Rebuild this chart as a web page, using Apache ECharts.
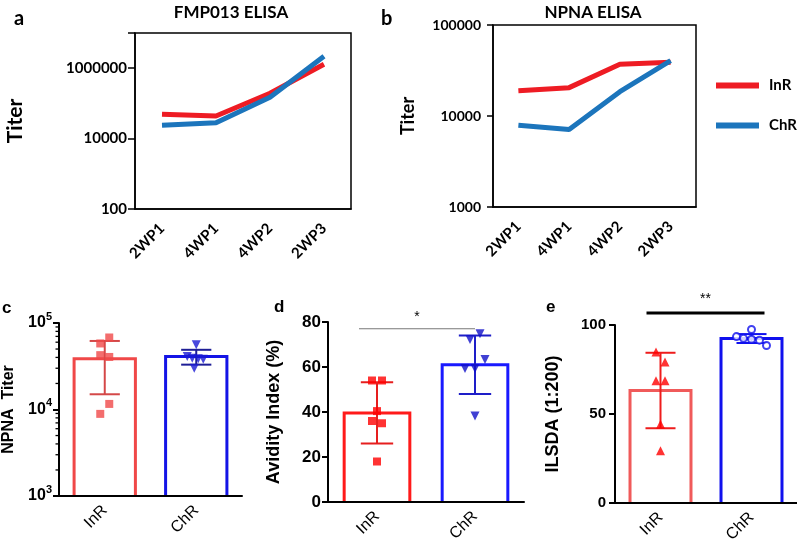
<!DOCTYPE html>
<html><head><meta charset="utf-8">
<script src="https://cdn.jsdelivr.net/npm/echarts@6/dist/echarts.min.js"></script>
<style>html,body{margin:0;padding:0;background:#fff}#c{width:797px;height:550px}</style>
</head><body><div id="c"></div>
<script>
// ---------- data ----------
const timeCats = ['2WP1', '4WP1', '4WP2', '2WP3'];
const aInR = [49000, 44000, 195000, 1300000];
const aChR = [24000, 28000, 150000, 2200000];
const bInR = [19000, 20500, 37000, 39000];
const bChR = [7900, 7100, 18500, 40500];

const groups = ['InR', 'ChR'];
const cMean = [38500, 41000];
const cSD = [23500, 8000];
const cInRPts = [68000, 58000, 42500, 40500, 11600, 8900];
const cChRPts = [56000, 41000, 39000, 38500, 38000, 30000];
const cMinorTicks = [2000, 3000, 4000, 5000, 6000, 7000, 8000, 9000, 20000, 30000, 40000, 50000, 60000, 70000, 80000, 90000];

const dMean = [39.6, 61];
const dSD = [13.6, 13];
const dInRPts = [54, 54, 40.4, 36, 35, 18];
const dChRPts = [74.8, 72.2, 63.3, 59.3, 59.3, 38.2];
const dSig = { y: 77, text: '*' };

const eMean = [63.2, 92.4];
const eSD = [21.2, 2.5];
const eInRPts = [84.8, 79.2, 68.7, 68.7, 44.3, 29.4];
const eChRPts = [97.5, 93.5, 92.5, 92, 91.5, 88.5];
const eSig = { y: 106.7, text: '**' };

// ---------- styles ----------
const RED = '#ee1c24', BLUE = '#1c75bc';
const LAT = 'Lato', ARI = 'Liberation Sans';
// horizontal jitter of dots (px), style only
const cOffIn = [4.5, -4.5, -4.5, 4.5, 4.5, -4.5];
const cOffCh = [0, -9, -4, 2, 7, -2];
const dOffIn = [-5, 5, 0, -5, 5, 0];
const dOffCh = [5, -5, 10, -10, 0, 0];
const eOffIn = [-4.5, 4.5, -4.5, 4.5, 0, 0];
const eOffCh = [0, -15, -8, 0, 8, 15];

const chart = echarts.init(document.getElementById('c'), null, { renderer: 'canvas' });

const blk = { color: '#000', width: 1.5 };
function topAxisX(gi, fs) {
  return { gridIndex: gi, type: 'category', data: timeCats,
    axisLine: { lineStyle: blk }, axisTick: { length: 7, lineStyle: blk },
    axisLabel: { rotate: 45, margin: 17, color: '#000', fontFamily: LAT, fontWeight: 'bold', fontSize: fs },
    splitLine: { show: false } };
}
function botAxisX(gi) {
  return { gridIndex: gi, type: 'category', data: groups, z: 10,
    axisLine: { lineStyle: { color: '#000', width: 2 } },
    axisTick: { alignWithLabel: true, length: 5, lineStyle: { color: '#000', width: 2 } },
    axisLabel: { rotate: 45, margin: 12, color: '#000', fontFamily: ARI, fontSize: 16 },
    splitLine: { show: false } };
}
function botAxisY(gi, extra) {
  return Object.assign({ gridIndex: gi, z: 10,
    axisLine: { show: true, lineStyle: { color: '#000', width: 2 } },
    axisTick: { show: true, length: 6, lineStyle: { color: '#000', width: 2 } },
    splitLine: { show: false },
    nameLocation: 'middle', nameRotate: 90,
    nameTextStyle: { fontFamily: ARI, fontWeight: 'bold', fontSize: 18, color: '#000' }
  }, extra);
}

function errSeries(gi, mean, sd, cols) {
  return { type: 'custom', xAxisIndex: gi, yAxisIndex: gi, z: 5, silent: true,
    data: mean.map((m, i) => [i, m - sd[i], m + sd[i]]),
    encode: { x: 0, y: [1, 2] },
    renderItem: function (params, api) {
      const x = api.value(0);
      const lo = api.coord([x, api.value(1)]);
      const hi = api.coord([x, api.value(2)]);
      const half = params.coordSys.width / 2 * 0.165;
      const st = { stroke: cols[params.dataIndex], lineWidth: 2 };
      return { type: 'group', children: [
        { type: 'line', shape: { x1: lo[0], y1: lo[1], x2: hi[0], y2: hi[1] }, style: st },
        { type: 'line', shape: { x1: lo[0] - half, y1: lo[1], x2: lo[0] + half, y2: lo[1] }, style: st },
        { type: 'line', shape: { x1: hi[0] - half, y1: hi[1], x2: hi[0] + half, y2: hi[1] }, style: st }
      ] };
    } };
}
// open bar: three sides drawn from the axis up to the mean
function barSeries(gi, mean, cols) {
  return { type: 'custom', xAxisIndex: gi, yAxisIndex: gi, z: 2, silent: true,
    data: mean.map((m, i) => [i, m]), encode: { x: 0, y: 1 },
    renderItem: function (params, api) {
      const p = api.coord([api.value(0), api.value(1)]);
      const base = params.coordSys.y + params.coordSys.height;
      const hw = params.coordSys.width / 2 * 0.67 / 2;
      return { type: 'polyline',
        shape: { points: [[p[0] - hw, base], [p[0] - hw, p[1]], [p[0] + hw, p[1]], [p[0] + hw, base]] },
        style: { stroke: cols[params.dataIndex], lineWidth: 3, fill: null } };
    } };
}
function dotSeries(gi, cat, pts, offs, sym, size, col, extra) {
  return Object.assign({ type: 'scatter', xAxisIndex: gi, yAxisIndex: gi, z: 6, silent: true,
    symbol: sym, symbolSize: size, itemStyle: { color: col },
    data: pts.map((v, i) => ({ value: [cat, v], symbolOffset: [offs[i], 0] })) }, extra || {});
}
function sigSeries(gi, sig, dx1, dx2, stroke, lw, textY) {
  return { type: 'custom', xAxisIndex: gi, yAxisIndex: gi, z: 6, silent: true, clip: false,
    data: [[0, 1, sig.y]], encode: { x: [0, 1], y: 2 },
    renderItem: function (params, api) {
      const p1 = api.coord([api.value(0), api.value(2)]);
      const p2 = api.coord([api.value(1), api.value(2)]);
      const x1 = p1[0] + dx1, x2 = p2[0] + dx2;
      return { type: 'group', children: [
        { type: 'line', shape: { x1: x1, y1: p1[1], x2: x2, y2: p2[1] }, style: { stroke: stroke, lineWidth: lw } },
        { type: 'text', x: (x1 + x2) / 2, y: p1[1] + textY,
          style: { text: sig.text, textAlign: 'center', textVerticalAlign: 'middle', font: '14px "Liberation Sans"', fill: '#000' } }
      ] };
    } };
}

const option = {
  animation: false,
  backgroundColor: '#fff',
  grid: [
    { left: 135, top: 33, width: 216, height: 176, show: true, borderColor: '#000', borderWidth: 1.5 },
    { left: 493, top: 25, width: 203, height: 182, show: true, borderColor: '#000', borderWidth: 1.5 },
    { left: 53, top: 323, width: 189, height: 173 },
    { left: 328, top: 322, width: 196, height: 180 },
    { left: 615, top: 325, width: 182, height: 178 }
  ],
  legend: { data: ['InR', 'ChR'], orient: 'vertical', left: 716, top: 78, padding: 0, icon: 'rect', itemWidth: 43, itemHeight: 6, itemGap: 25,
    textStyle: { fontFamily: LAT, fontWeight: 'bold', fontSize: 15, color: '#000', padding: [0, 0, 0, 5] } },
  xAxis: [ topAxisX(0, 15), topAxisX(1, 15), botAxisX(2), botAxisX(3), botAxisX(4) ],
  yAxis: [
    { gridIndex: 0, type: 'log', logBase: 10, min: 100, max: 10000000, interval: 2,
      axisLine: { show: true, lineStyle: blk }, axisTick: { show: true, length: 7, lineStyle: blk }, splitLine: { show: false },
      axisLabel: { margin: 8, color: '#000', fontFamily: LAT, fontWeight: 'bold', fontSize: 15,
        formatter: function (v) { const e = Math.round(Math.log10(v)); return (e % 2 === 0 && e < 7) ? String(Math.round(v)) : ''; } },
      name: 'Titer', nameLocation: 'middle', nameGap: 109, nameRotate: 90,
      nameTextStyle: { fontFamily: LAT, fontWeight: 'bold', fontSize: 21, color: '#000' } },
    { gridIndex: 1, type: 'log', logBase: 10, min: 1000, max: 100000,
      axisLine: { show: true, lineStyle: blk }, axisTick: { show: true, length: 6, lineStyle: blk }, splitLine: { show: false },
      axisLabel: { margin: 12, color: '#000', fontFamily: LAT, fontWeight: 'bold', fontSize: 14,
        formatter: function (v) { return String(Math.round(v)); } },
      name: 'Titer', nameLocation: 'middle', nameGap: 76, nameRotate: 90,
      nameTextStyle: { fontFamily: LAT, fontWeight: 'bold', fontSize: 18, color: '#000' } },
    botAxisY(2, { type: 'log', logBase: 10, min: 1000, max: 100000, name: 'NPNA  Titer', nameGap: 42,
      nameTextStyle: { fontFamily: ARI, fontWeight: 'bold', fontSize: 16, color: '#000' },
      axisLabel: { margin: 7, formatter: function (v) { return '{b|10}{s|' + Math.round(Math.log10(v)) + '}'; },
        rich: { b: { fontFamily: ARI, fontWeight: 'bold', fontSize: 16, lineHeight: 24, color: '#000' },
                s: { fontFamily: ARI, fontWeight: 'bold', fontSize: 11, lineHeight: 12, verticalAlign: 'top', color: '#000' } } } }),
    botAxisY(3, { type: 'value', min: 0, max: 80, interval: 20, name: 'Avidity Index (%)', nameGap: 45,
      axisLabel: { margin: 7, color: '#000', fontFamily: ARI, fontWeight: 'bold', fontSize: 17 } }),
    botAxisY(4, { type: 'value', min: 0, max: 100, interval: 50, name: 'ILSDA (1:200)', nameGap: 53,
      axisLabel: { margin: 9, color: '#000', fontFamily: ARI, fontWeight: 'bold', fontSize: 15 } })
  ],
  graphic: [
    { type: 'text', x: 231, y: 13, style: { text: 'FMP013 ELISA', font: 'bold 17px Lato', fill: '#000', textAlign: 'center', textVerticalAlign: 'middle' } },
    { type: 'text', x: 593, y: 13, style: { text: 'NPNA ELISA', font: 'bold 17px Lato', fill: '#000', textAlign: 'center', textVerticalAlign: 'middle' } },
    { type: 'text', x: 14, y: 19, style: { text: 'a', font: 'bold 20px Lato', fill: '#000', textVerticalAlign: 'middle' } },
    { type: 'text', x: 381, y: 19, style: { text: 'b', font: 'bold 20px Lato', fill: '#000', textVerticalAlign: 'middle' } },
    { type: 'text', x: 2, y: 308, style: { text: 'c', font: 'bold 17px "Liberation Sans"', fill: '#000', textVerticalAlign: 'middle' } },
    { type: 'text', x: 274, y: 307, style: { text: 'd', font: 'bold 17px "Liberation Sans"', fill: '#000', textVerticalAlign: 'middle' } },
    { type: 'text', x: 546, y: 307, style: { text: 'e', font: 'bold 17px "Liberation Sans"', fill: '#000', textVerticalAlign: 'middle' } }
  ],
  series: [
    { name: 'InR', type: 'line', xAxisIndex: 0, yAxisIndex: 0, data: aInR, symbol: 'none', color: RED, lineStyle: { width: 5, color: RED }, z: 3 },
    { name: 'ChR', type: 'line', xAxisIndex: 0, yAxisIndex: 0, data: aChR, symbol: 'none', color: BLUE, lineStyle: { width: 5, color: BLUE }, z: 4 },
    { name: 'InR', type: 'line', xAxisIndex: 1, yAxisIndex: 1, data: bInR, symbol: 'none', color: RED, lineStyle: { width: 5, color: RED }, z: 3 },
    { name: 'ChR', type: 'line', xAxisIndex: 1, yAxisIndex: 1, data: bChR, symbol: 'none', color: BLUE, lineStyle: { width: 5, color: BLUE }, z: 4 },

    // c minor ticks on log axis
    { type: 'custom', xAxisIndex: 2, yAxisIndex: 2, silent: true, clip: false, z: 10,
      data: cMinorTicks.map(v => [0, v]), encode: { x: 0, y: 1 },
      renderItem: function (params, api) {
        const y = api.coord([0, api.value(1)])[1];
        const x = params.coordSys.x;
        return { type: 'line', shape: { x1: x - 3.5, y1: y, x2: x, y2: y }, style: { stroke: '#000', lineWidth: 1.3 } };
      } },

    barSeries(2, cMean, ['#f04848', '#1414e6']),
    errSeries(2, cMean, cSD, ['#d44848', '#1e1e96']),
    dotSeries(2, 0, cInRPts, cOffIn, 'rect', 8, '#f04848'),
    dotSeries(2, 1, cChRPts, cOffCh, 'triangle', 9, '#1a1ad4', { symbolRotate: 180 }),

    barSeries(3, dMean, ['#ff1a1a', '#1a1aff']),
    errSeries(3, dMean, dSD, ['#e61e1e', '#1e1ec8']),
    dotSeries(3, 0, dInRPts, dOffIn, 'rect', 8, '#ff0000'),
    dotSeries(3, 1, dChRPts, dOffCh, 'triangle', 9, '#1010c8', { symbolRotate: 180 }),
    sigSeries(3, dSig, -18, 0, '#777', 1.2, -12),

    barSeries(4, eMean, ['#f05a5a', '#1010ee']),
    errSeries(4, eMean, eSD, ['#ee1c1c', '#1010ee']),
    dotSeries(4, 0, eInRPts, eOffIn, 'triangle', 9, '#ff0000'),
    dotSeries(4, 1, eChRPts, eOffCh, 'emptyCircle', 7, '#1010ee', { itemStyle: { color: '#1010ee', borderWidth: 1.5 } }),
    sigSeries(4, eSig, -14, 13, '#000', 3, -14)
  ]
};
chart.setOption(option);
</script></body></html>
